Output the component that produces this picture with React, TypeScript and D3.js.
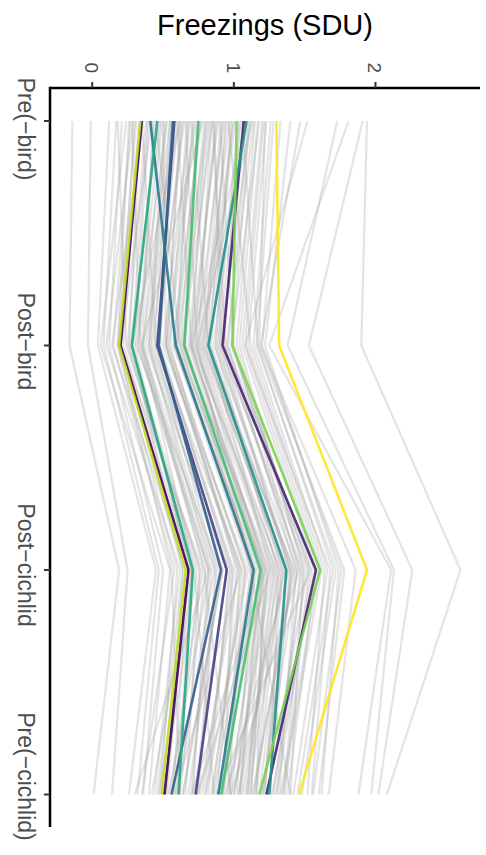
import * as d3 from 'd3';
import React, { useEffect, useRef } from 'react';

const conditions = ['Pre(−bird)', 'Post−bird', 'Post−cichlid', 'Pre(−cichlid)'];
const valueTicks = [0, 1, 2];

// grey background fish, same index = same fish in each array
const greyPreBird = [-0.14, -0.01, 0.12, 0.17, 0.21, 0.24, 0.27, 0.29, 0.31, 0.33, 0.36, 0.38, 0.4, 0.42, 0.44, 0.47, 0.49, 0.51, 0.53, 0.55, 0.57, 0.59, 0.61, 0.63, 0.65, 0.67, 0.69, 0.71, 0.73, 0.75, 0.77, 0.79, 0.81, 0.83, 0.85, 0.87, 0.89, 0.91, 0.93, 0.95, 0.97, 0.99, 1.01, 1.03, 1.05, 1.08, 1.1, 1.12, 1.15, 1.18, 1.2, 1.23, 1.26, 0.5, 0.35, 0.7, 0.9, 1.06, 0.6, 0.78, 0.45, 1.13, 1.22, 0.96, 1.47, 1.73, 1.81, 1.91, 1.94, 1.4, 1.52, 0.28, 0.62, 0.85, 0.18,
  0.3, 0.34, 0.39, 0.43, 0.48, 0.52, 0.56, 0.58, 0.62, 0.64, 0.68, 0.72, 0.74, 0.76, 0.8, 0.82, 0.84, 0.88, 0.92, 0.94, 0.98, 1.0, 1.04, 1.07, 1.11, 1.14, 1.17, 1.21, 0.66, 0.86, 0.55, 1.09, 1.28, 1.33, 0.26];
const greyPostBird = [-0.16, -0.03, 0.04, 0.08, 0.12, 0.06, 0.15, 0.1, 0.18, 0.22, 0.14, 0.25, 0.3, 0.2, 0.33, 0.27, 0.36, 0.4, 0.31, 0.44, 0.38, 0.47, 0.42, 0.52, 0.45, 0.55, 0.5, 0.58, 0.54, 0.62, 0.57, 0.65, 0.6, 0.68, 0.64, 0.72, 0.69, 0.76, 0.73, 0.8, 0.77, 0.84, 0.81, 0.88, 0.86, 0.92, 0.96, 0.9, 1.02, 0.98, 1.06, 1.1, 1.14, 0.52, 0.45, 0.82, 1.0, 1.17, 0.7, 0.35, 0.62, 0.74, 1.18, 1.12, 1.19, 1.38, 1.25, 1.53, 1.9, 1.22, 1.08, 0.34, 0.28, 0.94, 0.24,
  0.2, 0.26, 0.28, 0.35, 0.32, 0.41, 0.48, 0.4, 0.53, 0.46, 0.6, 0.52, 0.66, 0.59, 0.7, 0.63, 0.75, 0.71, 0.79, 0.83, 0.87, 0.78, 0.93, 0.89, 0.99, 0.95, 1.04, 1.08, 0.74, 0.91, 0.36, 0.7, 1.16, 1.2, 0.18];
const greyPostCichlid = [0.19, 0.25, 0.45, 0.47, 0.5, 0.55, 0.58, 0.62, 0.6, 0.7, 0.66, 0.74, 0.68, 0.78, 0.8, 0.76, 0.86, 0.84, 0.9, 0.88, 0.95, 1.0, 0.97, 1.03, 1.06, 1.02, 1.1, 1.12, 1.08, 1.15, 1.18, 1.14, 1.22, 1.2, 1.25, 1.28, 1.24, 1.32, 1.3, 1.35, 1.38, 1.34, 1.42, 1.4, 1.45, 1.48, 1.44, 1.52, 1.5, 1.55, 1.58, 1.62, 1.66, 1.05, 0.92, 1.26, 1.46, 1.7, 1.21, 0.72, 1.19, 1.12, 1.78, 1.64, 1.86, 2.13, 2.11, 2.26, 2.6, 1.74, 1.68, 0.82, 0.64, 1.54, 0.76,
  0.64, 0.72, 0.7, 0.83, 0.82, 0.92, 0.98, 0.87, 1.08, 0.99, 1.13, 1.04, 1.18, 1.16, 1.23, 1.27, 1.29, 1.33, 1.36, 1.4, 1.31, 1.43, 1.47, 1.41, 1.53, 1.57, 1.49, 1.6, 1.22, 1.39, 0.79, 1.2, 1.72, 1.76, 0.56];
const greyPreCichlid = [0.01, 0.14, 0.26, 0.32, 0.36, 0.4, 0.35, 0.44, 0.48, 0.42, 0.53, 0.5, 0.57, 0.55, 0.62, 0.66, 0.6, 0.7, 0.68, 0.75, 0.72, 0.78, 0.82, 0.76, 0.85, 0.88, 0.8, 0.92, 0.95, 0.9, 0.98, 1.02, 0.96, 1.05, 1.0, 1.08, 1.12, 1.06, 1.15, 1.1, 1.18, 1.22, 1.14, 1.25, 1.2, 1.28, 1.32, 1.24, 1.35, 1.3, 1.38, 1.34, 1.42, 0.58, 0.64, 0.74, 0.98, 1.45, 1.16, 0.86, 1.04, 1.4, 1.6, 1.52, 1.67, 1.97, 1.88, 2.02, 2.08, 1.62, 1.55, 0.3, 0.46, 0.88, 0.58,
  0.52, 0.47, 0.6, 0.54, 0.71, 0.64, 0.8, 0.74, 0.84, 0.93, 0.86, 0.97, 1.04, 0.92, 1.12, 1.0, 1.09, 1.16, 1.03, 1.2, 1.26, 1.13, 1.3, 1.21, 1.36, 1.27, 1.4, 1.33, 0.7, 0.94, 0.98, 1.1, 1.48, 1.56, 0.62];

// highlighted fish
const focusColors = ['#482475', '#414487', '#355F8D', '#2A788E', '#21918C', '#22A884', '#44BF70', '#7AD151', '#440154', '#BDDF26', '#FDE725'];
const focusPreBird = [1.07, 0.58, 0.57, 0.41, 1.09, 0.46, 0.75, 1.02, 0.35, 0.34, 1.3];
const focusPostBird = [0.92, 0.46, 0.47, 0.59, 0.82, 0.28, 0.65, 0.99, 0.2, 0.19, 1.32];
const focusPostCichlid = [1.58, 0.95, 0.91, 1.14, 1.37, 0.71, 1.19, 1.61, 0.68, 0.66, 1.94];
const focusPreCichlid = [1.23, 0.73, 0.56, 0.89, 1.25, 0.61, 0.91, 1.18, 0.51, 0.49, 1.46];

const W = 486;
const H = 855;

const FreezingChart = () => {
  const ref = useRef<SVGSVGElement | null>(null);

  useEffect(() => {
    document.body.style.margin = '0';
    if (!ref.current) return;
    const svg = d3.select(ref.current);
    svg.selectAll('*').remove();

    const panel = { left: 50, right: 480, top: 88, bottom: 827 };
    const font = 'Liberation Sans, Arial, Helvetica, sans-serif';
    // the rotated category labels sit a bit off their ticks in the original
    const labelShift = [8, -4, -5, -18];

    const greyFish = greyPreBird.map((v, i) => [v, greyPostBird[i], greyPostCichlid[i], greyPreCichlid[i]]);
    const focusFish = focusPreBird.map((v, i) => [v, focusPostBird[i], focusPostCichlid[i], focusPreCichlid[i]]);

    const all = [...greyFish.flat(), ...focusFish.flat()];
    const [lo, hi] = d3.extent(all) as [number, number];
    const pad = (hi - lo) * 0.05;

    const x = d3.scaleLinear().domain([lo - pad, hi + pad]).range([panel.left, panel.right]);
    const y = d3.scalePoint().domain(conditions).range([121, 794.5]);

    const line = d3
      .line<number>()
      .x((d) => x(d))
      .y((d, i) => y(conditions[i]) as number);

    svg
      .append('g')
      .selectAll('path')
      .data(greyFish)
      .enter()
      .append('path')
      .attr('d', (d) => line(d))
      .attr('fill', 'none')
      .attr('stroke', '#a6a6a6')
      .attr('stroke-opacity', 0.3)
      .attr('stroke-width', 2.2)
      .attr('stroke-linejoin', 'round');

    svg
      .append('g')
      .selectAll('path')
      .data(focusFish)
      .enter()
      .append('path')
      .attr('d', (d) => line(d))
      .attr('fill', 'none')
      .attr('stroke', (d, i) => focusColors[i])
      .attr('stroke-opacity', 0.9)
      .attr('stroke-width', 2.6)
      .attr('stroke-linejoin', 'round');

    // axis lines
    svg.append('line').attr('x1', panel.left).attr('x2', panel.right).attr('y1', panel.top).attr('y2', panel.top).attr('stroke', '#000').attr('stroke-width', 2.5);
    svg.append('line').attr('x1', panel.left).attr('x2', panel.left).attr('y1', panel.top - 1.25).attr('y2', panel.bottom).attr('stroke', '#000').attr('stroke-width', 2.5);

    // value ticks (top)
    valueTicks.forEach((t) => {
      svg.append('line').attr('x1', x(t)).attr('x2', x(t)).attr('y1', panel.top - 6).attr('y2', panel.top).attr('stroke', '#333').attr('stroke-width', 2);
      svg
        .append('text')
        .attr('transform', `translate(${x(t) - 7},73) rotate(90)`)
        .attr('text-anchor', 'end')
        .attr('font-family', font)
        .attr('font-size', 19)
        .attr('fill', '#4d4d4d')
        .text(t);
    });

    // condition ticks (left)
    conditions.forEach((c, i) => {
      const yy = y(c) as number;
      svg.append('line').attr('x1', panel.left - 6).attr('x2', panel.left).attr('y1', yy).attr('y2', yy).attr('stroke', '#333').attr('stroke-width', 2);
      svg
        .append('text')
        .attr('transform', `translate(18,${yy + labelShift[i]}) rotate(90)`)
        .attr('text-anchor', 'middle')
        .attr('font-family', font)
        .attr('font-size', 23)
        .attr('fill', '#4d4d4d')
        .text(c);
    });

    svg
      .append('text')
      .attr('x', (panel.left + panel.right) / 2)
      .attr('y', 35)
      .attr('text-anchor', 'middle')
      .attr('font-family', font)
      .attr('font-size', 29)
      .attr('fill', '#000')
      .text('Freezings (SDU)');
  }, []);

  return <svg ref={ref} width={W} height={H} style={{ display: 'block' }} />;
};

export default function App() {
  return <FreezingChart />;
}
